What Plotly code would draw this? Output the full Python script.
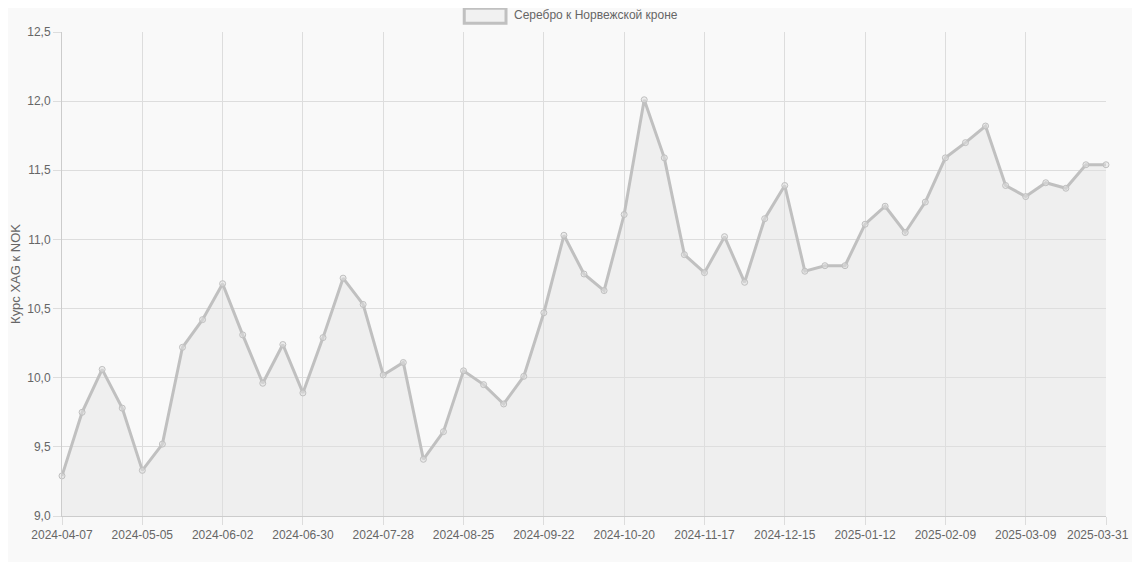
import plotly.graph_objects as go

# weekly dates (last point is month-end)
dates = [
    "2024-04-07", "2024-04-14", "2024-04-21", "2024-04-28", "2024-05-05", "2024-05-12",
    "2024-05-19", "2024-05-26", "2024-06-02", "2024-06-09", "2024-06-16", "2024-06-23",
    "2024-06-30", "2024-07-07", "2024-07-14", "2024-07-21", "2024-07-28", "2024-08-04",
    "2024-08-11", "2024-08-18", "2024-08-25", "2024-09-01", "2024-09-08", "2024-09-15",
    "2024-09-22", "2024-09-29", "2024-10-06", "2024-10-13", "2024-10-20", "2024-10-27",
    "2024-11-03", "2024-11-10", "2024-11-17", "2024-11-24", "2024-12-01", "2024-12-08",
    "2024-12-15", "2024-12-22", "2024-12-29", "2025-01-05", "2025-01-12", "2025-01-19",
    "2025-01-26", "2025-02-02", "2025-02-09", "2025-02-16", "2025-02-23", "2025-03-02",
    "2025-03-09", "2025-03-16", "2025-03-23", "2025-03-30", "2025-03-31",
]

rates = [
    9.29, 9.75, 10.06, 9.78, 9.33, 9.52, 10.22, 10.42, 10.68, 10.31, 9.96, 10.24,
    9.89, 10.29, 10.72, 10.53, 10.02, 10.11, 9.41, 9.61, 10.05, 9.95, 9.81, 10.01,
    10.47, 11.03, 10.75, 10.63, 11.18, 12.01, 11.59, 10.89, 10.76, 11.02, 10.69, 11.15,
    11.39, 10.77, 10.81, 10.81, 11.11, 11.24, 11.05, 11.27, 11.59, 11.70, 11.82, 11.39,
    11.31, 11.41, 11.37, 11.54, 11.54,
]

tick_labels = [
    "2024-04-07", "2024-05-05", "2024-06-02", "2024-06-30", "2024-07-28", "2024-08-25",
    "2024-09-22", "2024-10-20", "2024-11-17", "2024-12-15", "2025-01-12", "2025-02-09",
    "2025-03-09", "2025-03-31",
]

series_name = "Серебро к Норвежской кроне"

bg = "#f9f9f9"
grid = "#dddddd"
txt = "#666666"

fig = go.Figure()
fig.add_trace(go.Scatter(
    x=dates,
    y=rates,
    mode="lines+markers",
    name=series_name,
    fill="tozeroy",
    fillcolor="rgba(225,225,225,0.4)",
    line=dict(color="#c0c0c0", width=3),
    marker=dict(size=6, color="rgba(225,225,225,0.5)", line=dict(color="#c0c0c0", width=1)),
    cliponaxis=False,
    showlegend=False,
))

# legend box drawn by hand (chart.js style)
fig.add_shape(type="rect", xref="paper", yref="paper",
              x0=0.3853, x1=0.4253, y0=1.018, y1=1.049,
              line=dict(color="#c0c0c0", width=3), fillcolor="#f1f1f1")
fig.add_annotation(text=series_name, xref="paper", yref="paper",
                   x=0.4307, y=1.035, xanchor="left", yanchor="middle",
                   showarrow=False, font=dict(size=12, color=txt))

# last tick label would be cut at the page edge, so it is right-aligned by hand
ticktext = tick_labels[:-1] + [""]
fig.add_annotation(text=tick_labels[-1], xref="x", yref="paper",
                   x=tick_labels[-1], y=0, xanchor="right", yanchor="middle",
                   xshift=25, yshift=-19, showarrow=False,
                   font=dict(size=12, color=txt))

# page body has an 8px margin, so the figure is trimmed to fit
fig.update_layout(
    width=1132,
    height=554,
    margin=dict(l=54, r=34, t=24, b=46),
    paper_bgcolor=bg,
    plot_bgcolor=bg,
    separators=", ",
    font=dict(family="Liberation Sans, Arial, sans-serif", size=12, color=txt),
)
fig.update_xaxes(
    type="category",
    range=[0, len(dates) - 1],
    tickmode="array",
    tickvals=tick_labels,
    ticktext=ticktext,
    tickangle=0,
    showgrid=True,
    gridcolor=grid,
    ticks="outside",
    ticklen=8,
    tickcolor=grid,
    showline=True,
    linecolor="#cccccc",
    zeroline=False,
    automargin=False,
)
fig.update_yaxes(
    range=[9, 12.5],
    dtick=0.5,
    tickformat=".1f",
    showgrid=True,
    gridcolor=grid,
    ticks="outside",
    ticklen=8,
    tickcolor=grid,
    showline=True,
    linecolor="#cccccc",
    zeroline=False,
    automargin=False,
    title=dict(text="Курс XAG к NOK", font=dict(size=13, color=txt), standoff=8),
)

fig.write_html("out.html")
